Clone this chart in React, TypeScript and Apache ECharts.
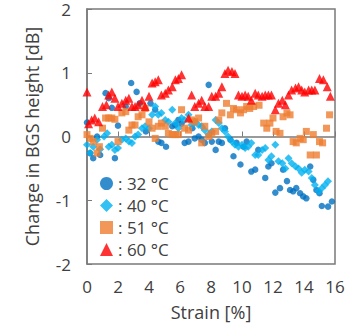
import React, { useEffect, useRef } from "react";
import * as echarts from "echarts";

const xTicks = ["0", "2", "4", "6", "8", "10", "12", "14", "16"];
const yTicks = ["-2", "-1", "0", "1", "2"];
const seriesNames = [": 32 °C", ": 40 °C", ": 51 °C", ": 60 °C"];

const x32 = [0, 0.2, 0.4, 0.65, 0.85, 1.2, 1.4, 1.6, 1.8, 2.0, 2.5, 2.85, 3.2, 3.4, 3.8, 4.1, 4.4, 4.6, 4.8, 5.1, 5.5, 5.7, 5.9, 6.1, 6.3, 6.55, 6.8, 6.95, 7.2, 7.4, 7.6, 7.85, 8.05, 8.3, 8.5, 8.7, 8.9, 9.25, 9.45, 9.65, 9.9, 10.1, 10.3, 10.6, 10.85, 11.05, 11.5, 11.7, 11.9, 12.15, 12.45, 12.65, 12.9, 13.1, 13.3, 13.5, 13.75, 13.95, 14.15, 14.4, 14.6, 14.8, 15.0, 15.15, 15.55, 15.8];
const y32 = [0.22, -0.26, -0.34, 0.0, -0.29, 0.68, 0.6, 0.45, -0.34, 0.17, 0.47, 0.84, 0.70, 0.52, 0.08, 0.52, 0.42, -0.08, -0.10, -0.16, 0.16, 0.18, 0.26, 0.2, -0.10, -0.08, 0.13, -0.03, 0.0, -0.05, -0.10, 0.81, -0.08, -0.21, -0.08, -0.10, 0.13, -0.05, -0.31, -0.10, -0.44, -0.16, -0.08, -0.55, -0.52, -0.21, -0.65, -0.47, -0.42, -0.88, -0.81, -0.52, -0.70, -0.84, -0.86, -0.81, -0.89, -0.94, -0.97, -0.47, -0.68, -0.84, -0.89, -1.09, -1.10, -1.02];

const x40 = [0, 0.2, 0.4, 0.65, 0.85, 1.1, 1.3, 1.4, 1.6, 1.8, 2.0, 2.25, 2.5, 2.7, 2.9, 3.1, 3.3, 3.55, 3.75, 4.0, 4.2, 4.4, 4.6, 4.8, 5.05, 5.25, 5.5, 5.7, 5.9, 6.1, 6.3, 6.55, 6.75, 6.95, 7.2, 7.4, 7.6, 7.85, 8.05, 8.3, 8.5, 8.7, 8.9, 9.1, 9.35, 9.55, 9.77, 10.0, 10.2, 10.4, 10.6, 10.85, 11.05, 11.3, 11.5, 11.7, 11.9, 12.15, 12.35, 12.6, 12.8, 13.0, 13.2, 13.45, 13.65, 13.85, 14.05, 14.3, 14.5, 14.7, 14.95, 15.15, 15.35, 15.55];
const y40 = [-0.13, -0.26, -0.16, -0.05, -0.2, 0.0, 0.05, -0.16, -0.13, -0.21, -0.18, -0.05, -0.03, -0.08, -0.10, 0.0, 0.03, 0.13, 0.16, 0.13, 0.34, 0.47, 0.34, 0.37, 0.26, 0.23, 0.42, 0.21, 0.13, 0.29, 0.26, 0.34, 0.18, 0.23, 0.18, 0.16, 0.10, 0.03, 0.08, 0.26, 0.21, 0.13, 0.08, 0.0, -0.08, -0.13, -0.16, -0.13, -0.18, -0.16, -0.10, -0.29, -0.29, -0.21, -0.18, -0.37, -0.31, -0.13, -0.39, -0.42, -0.50, -0.34, -0.42, -0.47, -0.50, -0.57, -0.52, -0.55, -0.65, -0.76, -0.86, -0.81, -0.76, -0.70];

const x51 = [0, 0.2, 0.4, 0.65, 0.8, 1.0, 1.2, 1.4, 1.6, 1.8, 2.0, 2.25, 2.5, 2.7, 2.9, 3.1, 3.3, 3.55, 3.75, 4.0, 4.2, 4.4, 4.6, 4.8, 5.05, 5.25, 5.5, 5.7, 5.9, 6.1, 6.3, 6.55, 6.75, 6.95, 7.2, 7.4, 7.6, 7.85, 8.05, 8.3, 8.5, 8.7, 9.0, 9.25, 9.45, 9.65, 9.9, 10.1, 10.3, 10.5, 10.75, 11.1, 11.4, 11.6, 11.8, 12.0, 12.2, 12.45, 12.65, 12.9, 13.1, 13.3, 13.5, 13.75, 13.95, 14.15, 14.4, 14.6, 14.8, 15.0, 15.2, 15.45, 15.65];
const y51 = [0.03, -0.03, -0.08, -0.26, -0.16, 0.13, 0.29, 0.29, 0.29, 0.27, -0.08, 0.37, 0.39, 0.10, 0.18, 0.18, 0.31, 0.34, 0.44, 0.23, 0.13, -0.03, 0.16, 0.21, 0.16, 0.05, 0.03, 0.03, 0.03, 0.42, 0.13, 0.10, 0.26, 0.23, 0.29, -0.10, 0.16, 0.0, 0.05, 0.08, 0.26, 0.37, 0.52, 0.34, 0.44, 0.42, 0.37, 0.42, 0.47, 0.44, 0.47, 0.49, 0.21, 0.13, 0.21, 0.29, 0.08, 0.05, 0.31, 0.37, 0.34, -0.08, -0.10, -0.03, -0.05, 0.08, -0.29, 0.03, -0.29, -0.08, -0.10, 0.13, 0.34];

const x60 = [0, 0.1, 0.3, 0.5, 0.75, 1.0, 1.25, 1.4, 1.6, 1.8, 2.0, 2.25, 2.5, 2.7, 2.9, 3.1, 3.3, 3.55, 3.75, 4.0, 4.2, 4.4, 4.6, 4.8, 5.05, 5.25, 5.5, 5.7, 5.9, 6.1, 6.55, 6.75, 6.95, 7.2, 7.4, 7.6, 7.85, 8.05, 8.3, 8.5, 8.7, 8.9, 9.1, 9.35, 9.55, 9.77, 10.0, 10.2, 10.4, 10.6, 10.85, 11.05, 11.3, 11.5, 11.7, 11.9, 12.15, 12.35, 12.6, 12.8, 13.0, 13.2, 13.45, 13.65, 13.85, 14.05, 14.3, 14.5, 14.7, 15.0, 15.25, 15.5, 15.7];
const y60 = [0.70, 0.20, 0.26, 0.29, 0.23, 0.47, 0.50, 0.65, 0.70, 0.60, 0.47, 0.52, 0.57, 0.60, 0.47, 0.47, 0.50, 0.57, 0.47, 0.63, 0.84, 0.86, 0.89, 0.65, 0.68, 0.73, 0.78, 0.89, 0.91, 0.97, 0.29, 0.65, 0.47, 0.52, 0.57, 0.47, 0.47, 0.63, 0.63, 0.68, 0.78, 0.99, 1.04, 1.02, 0.99, 0.65, 0.63, 0.65, 0.63, 0.57, 0.68, 0.65, 0.63, 0.65, 0.65, 0.65, 0.42, 0.52, 0.57, 0.50, 0.65, 0.73, 0.76, 0.78, 0.73, 0.70, 0.73, 0.73, 0.73, 0.91, 0.89, 0.78, 0.63];

const colors = ["#0070C0", "#00B0F0", "#ED7D31", "#FF0000"];
const symbols = ["circle", "diamond", "rect", "triangle"];
const sizes = [6.5, 8, 7, 9];

const zip = (xs: number[], ys: number[]) => xs.map((x, i) => [x, ys[i]]);

export default function App() {
  const ref = useRef<HTMLDivElement>(null);
  useEffect(() => {
    if (!ref.current) return;
    const chart = echarts.init(ref.current, undefined, { renderer: "svg" });
    const font = "'Open Sans', 'Noto Sans', sans-serif";
    const seriesData = [zip(x32, y32), zip(x40, y40), zip(x51, y51), zip(x60, y60)];
    chart.setOption({
      animation: false,
      backgroundColor: "#ffffff",
      grid: {
        left: 87,
        right: 15,
        top: 9,
        bottom: 64,
        show: true,
        borderColor: "#7a7a7a",
        borderWidth: 1.5,
      },
      legend: {
        data: seriesNames,
        orient: "vertical",
        left: 95,
        top: 170,
        itemWidth: 13,
        itemHeight: 13,
        itemGap: 5,
        textStyle: { fontFamily: font, fontSize: 17, lineHeight: 17, color: "#404040" },
      },
      xAxis: {
        type: "value",
        min: 0,
        max: 16,
        interval: 2,
        name: "Strain [%]",
        nameLocation: "middle",
        nameGap: 39,
        nameTextStyle: { fontFamily: font, fontSize: 18, color: "#404040" },
        axisLine: { show: true, lineStyle: { color: "#7a7a7a", width: 1.5 } },
        axisTick: { show: true, inside: true, length: 5, lineStyle: { color: "#7a7a7a" } },
        splitLine: { show: false },
        axisLabel: {
          margin: 14,
          fontFamily: font,
          fontSize: 17,
          color: "#404040",
          formatter: (v: number) => xTicks[Math.round(v / 2)] ?? "",
        },
      },
      yAxis: {
        type: "value",
        min: -2,
        max: 2,
        interval: 1,
        name: "Change in BGS height [dB]",
        nameLocation: "middle",
        nameGap: 46,
        nameTextStyle: { fontFamily: font, fontSize: 18, color: "#404040" },
        axisLine: { show: true, lineStyle: { color: "#7a7a7a", width: 1.5 } },
        axisTick: { show: true, inside: true, length: 5, lineStyle: { color: "#7a7a7a" } },
        splitLine: { show: false },
        axisLabel: {
          margin: 16,
          fontFamily: font,
          fontSize: 17,
          color: "#404040",
          formatter: (v: number) => yTicks[Math.round(v + 2)] ?? "",
        },
      },
      series: seriesData.map((d, i) => ({
        name: seriesNames[i],
        type: "scatter",
        symbol: symbols[i],
        symbolSize: sizes[i],
        itemStyle: { color: colors[i] },
        data: d,
      })),
    });
    return () => chart.dispose();
  }, []);
  return (
    <div
      ref={ref}
      style={{ position: "absolute", left: 0, top: 0, width: 350, height: 328 }}
    />
  );
}
